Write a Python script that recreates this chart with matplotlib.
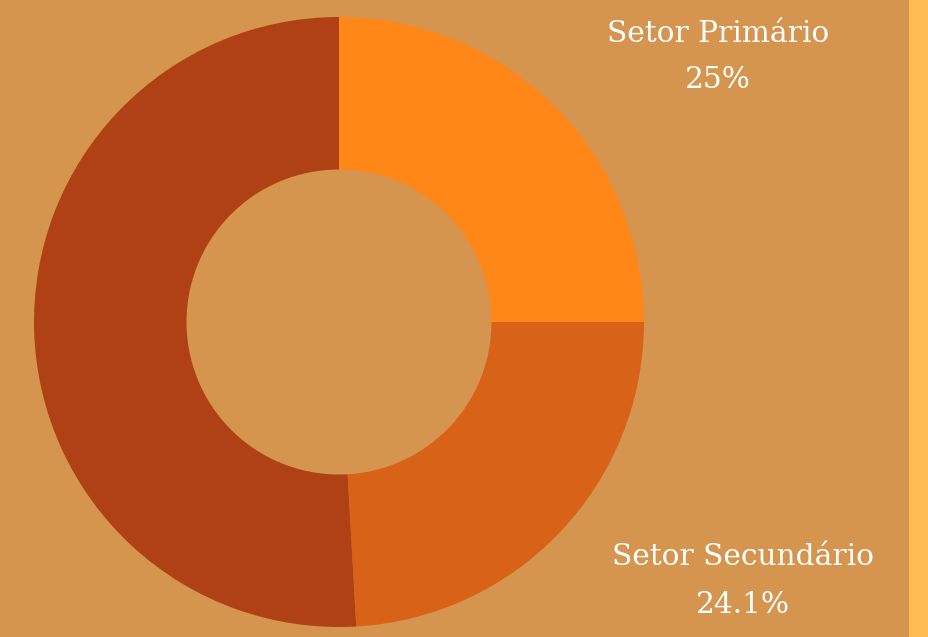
import matplotlib
matplotlib.use("Agg")
import matplotlib.pyplot as plt
from matplotlib.patches import Rectangle

labels = ["Setor Primário", "Setor Secundário", "Setor Terciário"]
values = [25.0, 24.1, 50.9]
colors = ["#FF8718", "#D96219", "#B04114"]
bg = "#D6954F"

W, H = 929, 637
fig = plt.figure(figsize=(W / 100, H / 100), dpi=100, facecolor=bg)

cx, cy, r = 339, 322, 305
ax = fig.add_axes([(cx - r) / W, (H - cy - r) / H, 2 * r / W, 2 * r / H])
ax.set_facecolor(bg)
ax.pie(values, colors=colors, startangle=90, counterclock=False, radius=1,
       wedgeprops=dict(width=0.5, linewidth=0, antialiased=True))
ax.set_xlim(-1, 1)
ax.set_ylim(-1, 1)
ax.set_aspect("equal")
ax.axis("off")

fig.patches.append(Rectangle((909 / W, 0), 20 / W, 1, transform=fig.transFigure,
                             facecolor="#FFBC55", edgecolor="none"))

font = dict(family="DejaVu Serif", color="white", ha="center", va="center", fontsize=21.3)
texts = [(718, 34, labels[0]), (718, 80, f"{values[0]:g}%"),
         (743, 557, labels[1]), (743, 605, f"{values[1]:g}%")]
for x, y, s in texts:
    fig.text(x / W, 1 - y / H, s, **font)

fig.savefig("out.png", dpi=100, facecolor=bg)
